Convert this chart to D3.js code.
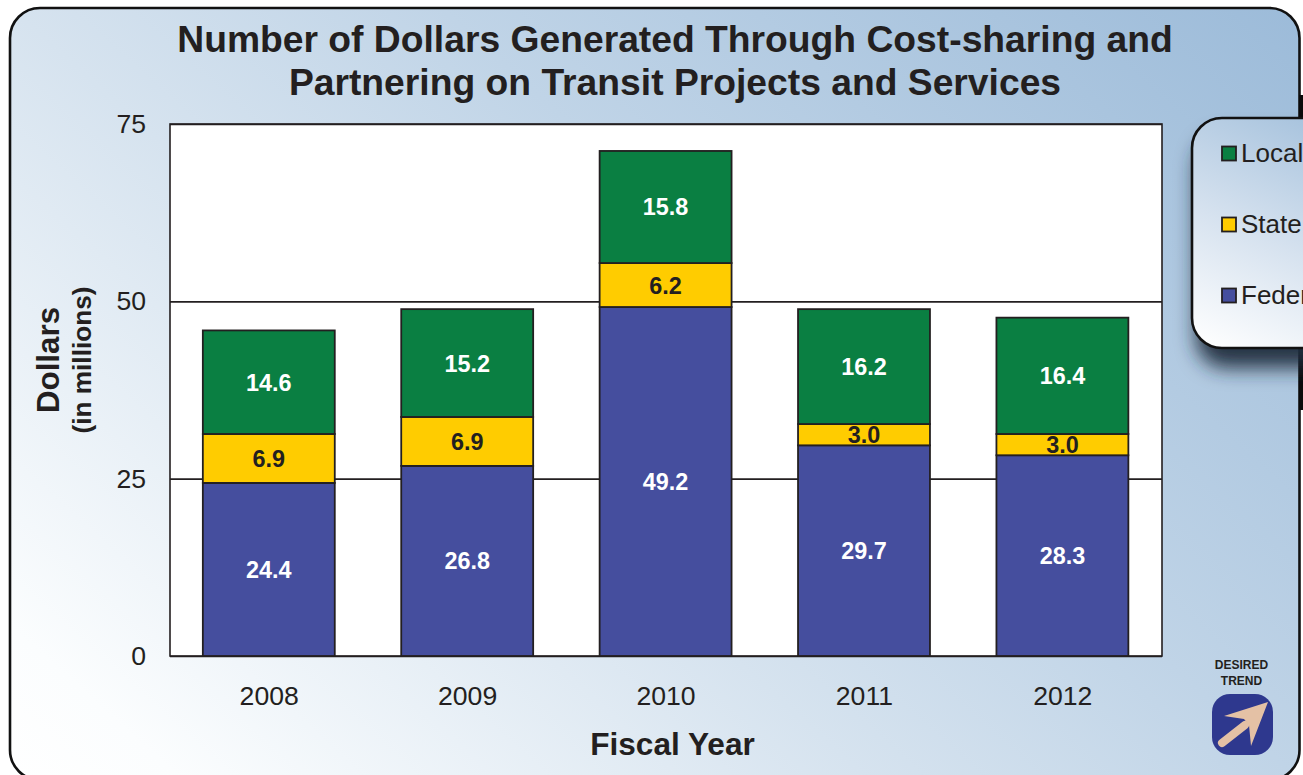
<!DOCTYPE html>
<html><head><meta charset="utf-8">
<script src="https://cdn.jsdelivr.net/npm/d3@7"></script>
<style>html,body{margin:0;padding:0;background:#fff;overflow:hidden}svg{display:block;font-family:"Liberation Sans",Arial,sans-serif}</style>
</head><body><div id="c"></div>
<script>
const titleLines = ["Number of Dollars Generated Through Cost-sharing and", "Partnering on Transit Projects and Services"];
const years = ["2008", "2009", "2010", "2011", "2012"];
const federal = [24.4, 26.8, 49.2, 29.7, 28.3];
const state = [6.9, 6.9, 6.2, 3.0, 3.0];
const local = [14.6, 15.2, 15.8, 16.2, 16.4];
const yTicks = [0, 25, 50, 75];
const seriesNames = ["federal", "state", "local"];
const seriesLabels = ["Federal", "State", "Local"];
const seriesColors = ["#454e9e", "#ffcc00", "#0a7f42"];
const labelColors = ["#ffffff", "#231f20", "#ffffff"];

const W = 1303, H = 775, ink = "#231f20";
const m = {l:170, r:1162, t:124, b:656};
const svg = d3.select("#c").append("svg").attr("width", W).attr("height", H);
const defs = svg.append("defs");

function grad(id, x1, y1, x2, y2, stops){
  const g = defs.append("linearGradient").attr("id", id).attr("gradientUnits","userSpaceOnUse")
    .attr("x1",x1).attr("y1",y1).attr("x2",x2).attr("y2",y2);
  stops.forEach(s => g.append("stop").attr("offset",s[0]).attr("stop-color",s[1]));
}
grad("bg", 10, 780, 971, -288, [[0,"#ffffff"],[0.08,"#fbfdfe"],[0.4,"#d6e3ef"],[0.6,"#c0d4e7"],[1,"#9cbbd9"]]);
grad("lg", 1195, 345, 1300, 118, [[0,"#ffffff"],[0.5,"#d6e2ef"],[1,"#a9c4de"]]);
const f = defs.append("filter").attr("id","sh").attr("x","-20%").attr("y","-20%").attr("width","140%").attr("height","150%");
f.append("feGaussianBlur").attr("stdDeviation",10);

// panel
svg.append("rect").attr("x",10).attr("y",8).attr("width",1289.5).attr("height",772).attr("rx",30)
  .attr("fill","url(#bg)").attr("stroke","#111").attr("stroke-width",2.6);
svg.append("rect").attr("x",1299).attr("y",95).attr("width",4).attr("height",315).attr("fill","#0a0a0a");

// title
svg.append("g").selectAll("text").data(titleLines).join("text")
  .attr("x",675).attr("y",(d,i)=>52+i*43).attr("text-anchor","middle")
  .attr("font-size",37.25).attr("font-weight","bold").attr("fill",ink).text(d=>d);

// scales
const x = d3.scaleBand().domain(years).range([m.l,m.r]).paddingInner(0.335).paddingOuter(0.1675);
const y = d3.scaleLinear().domain([0,75]).range([m.b,m.t]);

svg.append("rect").attr("x",m.l).attr("y",m.t).attr("width",m.r-m.l).attr("height",m.b-m.t).attr("fill","#fff");

// y axis with gridlines
const ya = svg.append("g").attr("transform",`translate(${m.l},0)`)
  .call(d3.axisLeft(y).tickValues(yTicks).tickSize(-(m.r-m.l)).tickPadding(24));
ya.select(".domain").remove();
ya.selectAll("line").attr("stroke",ink).attr("stroke-width",1.6);
ya.selectAll("text").attr("font-size",26.6).attr("font-family","Liberation Sans").attr("fill",ink).attr("dy","0.32em");

svg.append("rect").attr("x",m.l).attr("y",m.t).attr("width",m.r-m.l).attr("height",m.b-m.t)
  .attr("fill","none").attr("stroke",ink).attr("stroke-width",1.6);

// x axis
const xa = svg.append("g").attr("transform",`translate(0,${m.b})`)
  .call(d3.axisBottom(x).tickSize(0).tickPadding(30));
xa.select(".domain").remove();
xa.selectAll("text").attr("font-size",26.6).attr("font-family","Liberation Sans").attr("fill",ink);

// bars
const rows = years.map((yr,i)=>({year:yr, federal:federal[i], state:state[i], local:local[i]}));
const stacked = d3.stack().keys(seriesNames)(rows);
const layers = svg.append("g").selectAll("g").data(stacked).join("g");
layers.selectAll("rect").data((d,i)=>d.map(p=>({p,i}))).join("rect")
  .attr("x",d=>x(d.p.data.year)-0.4).attr("width",x.bandwidth())
  .attr("y",d=>y(d.p[1])).attr("height",d=>y(d.p[0])-y(d.p[1]))
  .attr("fill",d=>seriesColors[d.i]).attr("stroke",ink).attr("stroke-width",1.8);
layers.selectAll("text").data((d,i)=>d.map(p=>({p,i,key:d.key}))).join("text")
  .attr("x",d=>x(d.p.data.year)+x.bandwidth()/2-0.4)
  .attr("y",d=>(y(d.p[0])+y(d.p[1]))/2+8.5)
  .attr("text-anchor","middle").attr("font-size",23.4).attr("font-weight","bold")
  .attr("fill",d=>labelColors[d.i]).text(d=>d.p.data[d.key].toFixed(1));

// axis titles
svg.append("text").attr("transform","translate(59,360) rotate(-90)").attr("text-anchor","middle")
  .attr("font-size",31.3).attr("font-weight","bold").attr("fill",ink).text("Dollars");
svg.append("text").attr("transform","translate(91,360) rotate(-90)").attr("text-anchor","middle")
  .attr("font-size",26.2).attr("font-weight","bold").attr("fill",ink).text("(in millions)");
svg.append("text").attr("x",672.5).attr("y",755).attr("text-anchor","middle")
  .attr("font-size",31.6).attr("font-weight","bold").attr("fill",ink).text("Fiscal Year");

// legend
svg.append("rect").attr("x",1196).attr("y",136).attr("width",150).attr("height",232).attr("rx",30)
  .attr("fill","#1c2c3c").attr("fill-opacity",0.95).attr("filter","url(#sh)");
svg.append("rect").attr("x",1192).attr("y",118).attr("width",150).attr("height",230).attr("rx",30)
  .attr("fill","url(#lg)").attr("stroke","#111").attr("stroke-width",2.6);
const order = [2,1,0];
const lg = svg.append("g").selectAll("g").data(order).join("g")
  .attr("transform",(d,i)=>`translate(1222,${146.5+i*71})`);
lg.append("rect").attr("width",14).attr("height",14).attr("fill",d=>seriesColors[d]).attr("stroke",ink).attr("stroke-width",1.8);
lg.append("text").attr("x",19).attr("y",15).attr("font-size",26).attr("fill",ink).text(d=>seriesLabels[d]);

// desired trend badge
const badge = svg.append("g");
badge.selectAll("text").data(["DESIRED","TREND"]).join("text")
  .attr("x",1241.5).attr("y",(d,i)=>669+i*15.5).attr("text-anchor","middle")
  .attr("font-size",12).attr("font-weight","bold").attr("fill",ink).text(d=>d);
badge.append("rect").attr("x",1212).attr("y",694).attr("width",61).attr("height",61).attr("rx",18).attr("fill","#2e388e");
badge.append("path").attr("d","M1222 743 L1245 725").attr("stroke","#e4c1a5").attr("stroke-width",8).attr("stroke-linecap","round");
badge.append("path").attr("d","M1268 702 L1224 716 L1244 719 L1249 725 L1251 746 Z").attr("fill","#e4c1a5");
</script></body></html>
